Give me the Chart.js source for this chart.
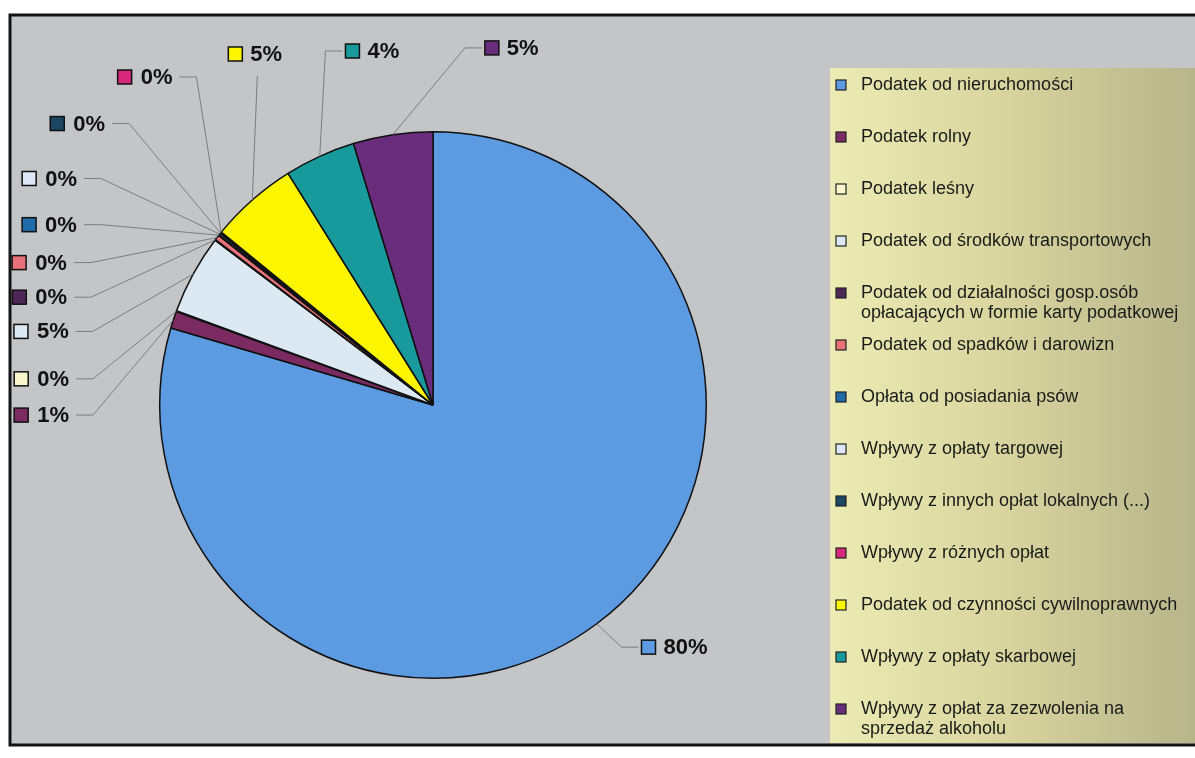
<!DOCTYPE html>
<html lang="pl">
<head>
<meta charset="UTF-8">
<title>Struktura dochodów własnych</title>
<script src="https://cdn.jsdelivr.net/npm/chart.js@4"></script>
<style>
  html, body { margin: 0; padding: 0; background: #fff; }
  #wrap { width: 1195px; height: 758px; }
</style>
</head>
<body>
<div id="wrap"><canvas id="pieChart" width="1195" height="758"></canvas></div>
<script>
// slices, clockwise from 12 o'clock (same order as the legend)
const categories = [
  'Podatek od nieruchomości',
  'Podatek rolny',
  'Podatek leśny',
  'Podatek od środków transportowych',
  'Podatek od działalności gosp.osób opłacających w formie karty podatkowej',
  'Podatek od spadków i darowizn',
  'Opłata od posiadania psów',
  'Wpływy z opłaty targowej',
  'Wpływy z innych opłat lokalnych (...)',
  'Wpływy z różnych opłat',
  'Podatek od czynności cywilnoprawnych',
  'Wpływy z opłaty skarbowej',
  'Wpływy z opłat za zezwolenia na sprzedaż alkoholu'
];
// share in %
const shares = [79.55, 1.0, 0.05, 4.7, 0.05, 0.3, 0.05, 0.1, 0.05, 0.05, 5.2, 4.2, 4.7];
const sliceColors = ['#5c9ae2', '#7b2a62', '#fcf6cc', '#dde9f2', '#4c2757', '#e8717a', '#1f6aa8',
                     '#dce6f5', '#1b4763', '#d8287c', '#fcf500', '#18999c', '#6a2c7c'];

// label layout: knee of the leader line, angle clockwise from 12 o'clock (deg)
// and distance from the centre in radii; side = where the label sits from the knee
const labelAngle = [142.1, 268.3, 274.4, 282.2, 287.5, 292.6, 298.5, 304.3, 312.8, 324.2, 331.9, 343.1, 5.1];
const labelDist = [1.123, 1.245, 1.248, 1.274, 1.312, 1.356, 1.383, 1.471, 1.516, 1.480, 1.365, 1.354, 1.312];
const labelSide = ['r', 'l', 'l', 'l', 'l', 'l', 'l', 'l', 'l', 'l', 'u', 'r', 'r'];

const FONT = "'Liberation Sans', Arial, sans-serif";

function wrapText(ctx, text, maxW) {
  const words = text.split(' ');
  const lines = [];
  let line = '';
  words.forEach(w => {
    const test = line ? line + ' ' + w : w;
    if (ctx.measureText(test).width > maxW && line) {
      lines.push(line);
      line = w;
    } else {
      line = test;
    }
  });
  lines.push(line);
  return lines;
}

// background frame + legend panel
const framePlugin = {
  id: 'frame',
  beforeDraw(chart) {
    const ctx = chart.ctx;
    ctx.save();
    ctx.fillStyle = '#ffffff';
    ctx.fillRect(0, 0, chart.width, chart.height);
    ctx.fillStyle = '#c4c5c7';
    ctx.fillRect(10, 15, chart.width - 10, 730);
    ctx.strokeStyle = '#151515';
    ctx.lineWidth = 3;
    ctx.beginPath();
    ctx.moveTo(chart.width, 15);
    ctx.lineTo(10, 15);
    ctx.lineTo(10, 745);
    ctx.lineTo(chart.width, 745);
    ctx.stroke();

    // legend panel
    const g = ctx.createLinearGradient(830, 0, chart.width, 0);
    g.addColorStop(0, '#ecebb4');
    g.addColorStop(0.45, '#d9d69f');
    g.addColorStop(1, '#b7b58a');
    ctx.fillStyle = g;
    ctx.fillRect(830, 68, chart.width - 830, 675);

    ctx.font = '18px ' + FONT;
    ctx.textBaseline = 'middle';
    chart.data.labels.forEach((lab, i) => {
      const y = 85 + i * 52;
      ctx.fillStyle = sliceColors[i];
      ctx.fillRect(836, y - 5, 10, 10);
      ctx.strokeStyle = '#222';
      ctx.lineWidth = 1.2;
      ctx.strokeRect(836, y - 5, 10, 10);
      ctx.fillStyle = '#1a1a1a';
      wrapText(ctx, lab, 330).forEach((ln, k) => ctx.fillText(ln, 861, y + k * 20));
    });
    ctx.restore();
  }
};

// percent labels with leader lines
const labelPlugin = {
  id: 'pctLabels',
  afterDatasetsDraw(chart) {
    const ctx = chart.ctx;
    const meta = chart.getDatasetMeta(0);
    const data = chart.data.datasets[0].data;
    const total = data.reduce((a, b) => a + b, 0);
    ctx.save();
    ctx.font = 'bold 22px ' + FONT;
    ctx.textBaseline = 'middle';
    meta.data.forEach((arc, i) => {
      const p = arc.getProps(['x', 'y', 'startAngle', 'endAngle', 'outerRadius'], true);
      const mid = (p.startAngle + p.endAngle) / 2;
      const ax = p.x + p.outerRadius * Math.cos(mid);
      const ay = p.y + p.outerRadius * Math.sin(mid);
      const la = (labelAngle[i] - 90) * Math.PI / 180;
      const kx = p.x + labelDist[i] * p.outerRadius * Math.cos(la);
      const ky = p.y + labelDist[i] * p.outerRadius * Math.sin(la);
      const txt = Math.round(data[i] / total * 100) + '%';
      const tw = ctx.measureText(txt).width;

      ctx.strokeStyle = '#7d7d7d';
      ctx.lineWidth = 1;
      ctx.beginPath();
      ctx.moveTo(ax, ay);
      ctx.lineTo(kx, ky);
      let boxX, boxY, textX;
      if (labelSide[i] === 'l') {
        ctx.lineTo(kx - 17, ky);
        textX = kx - 24 - tw;
        boxX = textX - 23;
        boxY = ky;
      } else if (labelSide[i] === 'r') {
        ctx.lineTo(kx + 17, ky);
        boxX = kx + 20;
        textX = kx + 42;
        boxY = ky;
      } else {
        boxX = kx - 29;
        textX = boxX + 22;
        boxY = ky - 22;
      }
      ctx.stroke();

      ctx.fillStyle = sliceColors[i];
      ctx.fillRect(boxX, boxY - 7, 14, 14);
      ctx.strokeStyle = '#111';
      ctx.lineWidth = 1.5;
      ctx.strokeRect(boxX, boxY - 7, 14, 14);
      ctx.fillStyle = '#111';
      ctx.fillText(txt, textX, boxY + 1);
    });
    ctx.restore();
  }
};

const ctx = document.getElementById('pieChart').getContext('2d');
new Chart(ctx, {
  type: 'pie',
  data: {
    labels: categories,
    datasets: [{
      data: shares,
      backgroundColor: sliceColors,
      borderColor: '#111',
      borderWidth: 1.5
    }]
  },
  options: {
    responsive: false,
    animation: false,
    layout: { padding: { left: 159, right: 488, top: 131, bottom: 79 } },
    plugins: {
      legend: { display: false },
      tooltip: { enabled: false }
    }
  },
  plugins: [framePlugin, labelPlugin]
});
</script>
</body>
</html>
